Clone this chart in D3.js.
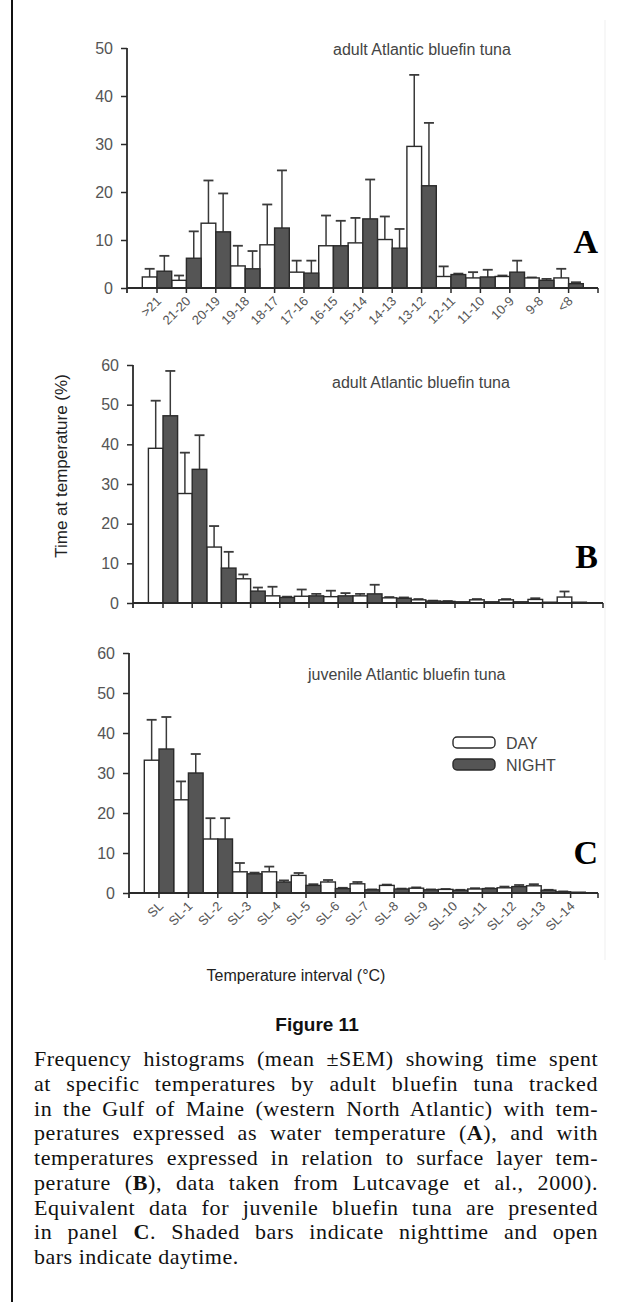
<!DOCTYPE html>
<html><head><meta charset="utf-8">
<script src="https://cdn.jsdelivr.net/npm/d3@7"></script>
<style>
html,body{margin:0;padding:0;background:#fff;}
svg{display:block;}
</style></head>
<body>
<script>
// ---------- DATA ----------
const catsA = [">21","21-20","20-19","19-18","18-17","17-16","16-15","15-14","14-13","13-12","12-11","11-10","10-9","9-8","<8"];
const dayA      = [2.3,1.6,13.5,4.6,9.0,3.3,8.8,9.4,10.1,29.5,2.4,2.1,2.4,2.1,2.1];
const semDayA   = [1.7,1.0,8.9,4.2,8.4,2.4,6.3,5.2,4.8,14.9,2.1,1.2,0.2,0.1,1.9];
const nightA    = [3.5,6.2,11.7,4.0,12.5,3.1,8.8,14.4,8.3,21.3,2.8,2.3,3.3,1.6,0.9];
const semNightA = [3.2,5.6,8.0,3.7,12.0,2.6,5.2,8.2,4.0,13.1,0.2,1.5,2.4,0.3,0.3];

const catsSL = ["SL","SL-1","SL-2","SL-3","SL-4","SL-5","SL-6","SL-7","SL-8","SL-9","SL-10","SL-11","SL-12","SL-13","SL-14"];
const dayB      = [39.0,27.6,14.1,6.1,1.8,1.7,1.6,1.8,1.3,0.8,0.4,0.8,0.8,0.9,1.5];
const semDayB   = [12.0,10.3,5.3,1.1,2.3,1.7,1.5,0.5,0.2,0.2,0.1,0.2,0.2,0.3,1.4];
const nightB    = [47.2,33.7,8.8,3.0,1.4,1.8,1.8,2.3,1.2,0.5,0.3,0.3,0.3,0.2,0.2];
const semNightB = [11.3,8.6,4.1,0.9,0.2,0.5,0.7,2.3,0.2,0.1,0,0,0,0,0];

const dayC      = [33.2,23.3,13.5,5.3,5.3,4.4,2.75,2.3,1.9,1.2,0.9,1.0,1.3,1.8,0.3];
const semDayC   = [10.1,4.6,5.2,2.2,1.3,0.6,0.5,0.45,0.2,0.2,0.1,0.2,0.3,0.4,0.1];
const nightC    = [36.0,30.0,13.5,4.8,2.75,1.9,1.1,0.8,1.0,0.8,0.7,1.1,1.6,0.7,0.2];
const semNightC = [8.0,4.75,5.2,0.3,0.4,0.3,0.2,0.1,0.1,0.1,0.1,0.1,0.4,0.1,0];

const ticksA = [0,10,20,30,40,50];
const ticksBC = [0,10,20,30,40,50,60];

const seriesNames = ["DAY","NIGHT"];
const panelTitles = ["adult Atlantic bluefin tuna","adult Atlantic bluefin tuna","juvenile Atlantic bluefin tuna"];
const panelLetters = ["A","B","C"];
const yTitle = "Time at temperature (%)";
const xTitle = "Temperature interval (°C)";
const figTitle = "Figure 11";

// ---------- DRAW ----------
const W = 633, H = 1302;
const svg = d3.select("body").append("svg").attr("width", W).attr("height", H);

const INK = "#2a2a2a", NIGHTFILL = "#555555";

// frame
svg.append("line").attr("x1",12).attr("x2",12).attr("y1",0).attr("y2",H)
  .attr("stroke","#111").attr("stroke-width",2);
svg.append("line").attr("x1",605).attr("x2",605).attr("y1",20).attr("y2",960)
  .attr("stroke","#efefef").attr("stroke-width",1);

function panel(cfg){
  const g = svg.append("g");
  const n = cfg.cats.length;
  const x = d3.scaleBand().domain(cfg.cats)
     .range([cfg.bandStart, cfg.bandStart + cfg.step*n]).padding(0);
  const y = d3.scaleLinear().domain([0, cfg.yMax]).range([cfg.y0, cfg.yTop]);
  const bw = x.bandwidth()/2;

  // y axis
  const ya = g.append("g").attr("transform",`translate(${cfg.x0},0)`)
    .call(d3.axisLeft(y).tickValues(cfg.ticks).tickSize(6).tickSizeOuter(0).tickPadding(8));
  ya.select(".domain").remove();
  ya.selectAll(".tick line").attr("stroke",INK).attr("stroke-width",1.5);
  ya.selectAll(".tick text").attr("fill","#555").attr("font-family","Liberation Sans, Arial, sans-serif")
    .attr("font-size",16);
  g.append("line").attr("x1",cfg.x0).attr("x2",cfg.x0).attr("y1",cfg.y0+5).attr("y2",cfg.yTop)
    .attr("stroke",INK).attr("stroke-width",1.8);

  // bars
  const rows = cfg.cats.map((c,i)=>({c, i}));
  const series = [
    {vals: cfg.day, sem: cfg.semDay, off: 0, fill: "#fff"},
    {vals: cfg.night, sem: cfg.semNight, off: 1, fill: NIGHTFILL}
  ];
  series.forEach(s=>{
    const eg = g.append("g");
    rows.forEach(r=>{
      const v = s.vals[r.i], e = s.sem[r.i];
      if (e > 0.05) {
        const cx = x(r.c) + s.off*bw + bw/2;
        eg.append("line").attr("x1",cx).attr("x2",cx).attr("y1",y(v)).attr("y2",y(v+e))
          .attr("stroke","#3a3a3a").attr("stroke-width",1.5);
        eg.append("line").attr("x1",cx-5).attr("x2",cx+5).attr("y1",y(v+e)).attr("y2",y(v+e))
          .attr("stroke","#3a3a3a").attr("stroke-width",1.8);
      }
    });
    g.append("g").selectAll("rect").data(rows).join("rect")
      .attr("x", r=>x(r.c) + s.off*bw)
      .attr("width", bw)
      .attr("y", r=>y(s.vals[r.i]))
      .attr("height", r=>cfg.y0 - y(s.vals[r.i]))
      .attr("fill", s.fill).attr("stroke", INK).attr("stroke-width",1.4);
  });

  // x axis
  const xa = g.append("g").attr("transform",`translate(0,${cfg.y0})`)
    .call(d3.axisBottom(x).tickSize(5).tickSizeOuter(0).tickFormat(cfg.showLabels ? (d=>d) : ""));
  xa.select(".domain").remove();
  xa.selectAll(".tick line").attr("stroke",INK).attr("stroke-width",1.5);
  g.append("line").attr("x1",cfg.x0).attr("x2",cfg.axisEnd).attr("y1",cfg.y0).attr("y2",cfg.y0)
    .attr("stroke",INK).attr("stroke-width",1.8);
  g.append("line").attr("x1",cfg.axisEnd).attr("x2",cfg.axisEnd).attr("y1",cfg.y0).attr("y2",cfg.y0+5)
    .attr("stroke",INK).attr("stroke-width",1.5);
  if (cfg.showLabels){
    xa.selectAll(".tick text")
      .attr("x",0).attr("y",0).attr("dy",0)
      .attr("transform",`translate(5,${cfg.labelDy}) rotate(-45)`)
      .attr("text-anchor","end")
      .attr("fill","#555").attr("font-family","Liberation Sans, Arial, sans-serif")
      .attr("font-size",13);
  }

  g.append("text").attr("x",cfg.titleX).attr("y",cfg.titleY).text(cfg.title)
    .attr("fill","#444").attr("font-family","Liberation Sans, Arial, sans-serif").attr("font-size",16);
  g.append("text").attr("x",598).attr("y",cfg.letterY).attr("text-anchor","end").text(cfg.letter)
    .attr("fill","#000").attr("font-family","Liberation Serif, Times New Roman, serif")
    .attr("font-weight","bold").attr("font-size",34);
  return {x,y,g};
}

panel({cats:catsA, day:dayA, semDay:semDayA, night:nightA, semNight:semNightA,
  x0:127, y0:288, yTop:48, yMax:50, ticks:ticksA, bandStart:142.3, step:29.4, axisEnd:598,
  showLabels:true, labelDy:14, title:panelTitles[0], titleX:333, titleY:55, letter:panelLetters[0], letterY:253});

panel({cats:catsSL, day:dayB, semDay:semDayB, night:nightB, semNight:semNightB,
  x0:133, y0:603, yTop:365, yMax:60, ticks:ticksBC, bandStart:148.4, step:29.2, axisEnd:603,
  showLabels:false, title:panelTitles[1], titleX:332, titleY:388, letter:panelLetters[1], letterY:568});

panel({cats:catsSL, day:dayC, semDay:semDayC, night:nightC, semNight:semNightC,
  x0:129, y0:893, yTop:653, yMax:60, ticks:ticksBC, bandStart:144.3, step:29.4, axisEnd:598,
  showLabels:true, labelDy:14, title:panelTitles[2], titleX:308, titleY:680, letter:panelLetters[2], letterY:864});

// legend
const leg = svg.append("g");
seriesNames.forEach((nm,i)=>{
  leg.append("rect").attr("x",453).attr("y",737 + i*22).attr("width",42).attr("height",11)
    .attr("rx",4).attr("fill", i===0 ? "#fff" : NIGHTFILL).attr("stroke",INK).attr("stroke-width",1.4);
  leg.append("text").attr("x",506).attr("y",749 + i*22).text(nm)
    .attr("fill","#444").attr("font-family","Liberation Sans, Arial, sans-serif").attr("font-size",16);
});

// axis titles
svg.append("text").attr("transform","translate(67,466) rotate(-90)").attr("text-anchor","middle")
  .text(yTitle).attr("fill","#222").attr("font-family","Liberation Sans, Arial, sans-serif").attr("font-size",17);
svg.append("text").attr("x",296).attr("y",981).attr("text-anchor","middle")
  .text(xTitle).attr("fill","#222").attr("font-family","Liberation Sans, Arial, sans-serif").attr("font-size",16);

// figure title
svg.append("text").attr("x",317).attr("y",1031).attr("text-anchor","middle")
  .text(figTitle).attr("fill","#111").attr("font-family","Liberation Sans, Arial, sans-serif")
  .attr("font-weight","bold").attr("font-size",19);

// caption (segments: [text, bold])
const captionLines = [
  [["Frequency histograms (mean ±SEM) showing time spent",0]],
  [["at specific temperatures by adult bluefin tuna tracked",0]],
  [["in the Gulf of Maine (western North Atlantic) with tem-",0]],
  [["peratures expressed as water temperature (",0],["A",1],["), and with",0]],
  [["temperatures expressed in relation to surface layer tem-",0]],
  [["perature (",0],["B",1],["), data taken from Lutcavage et al., 2000).",0]],
  [["Equivalent data for juvenile bluefin tuna are presented",0]],
  [["in panel ",0],["C",1],[". Shaded bars indicate nighttime and open",0]],
  [["bars indicate daytime.",0]]
];
const capX = 34, capW = 564, capY0 = 1066, capDY = 24.75;
captionLines.forEach((segs,i)=>{
  const t = svg.append("text").attr("x",capX).attr("y",capY0 + i*capDY)
    .attr("fill","#111").attr("font-family","Liberation Serif, Times New Roman, serif").attr("font-size",22);
  segs.forEach(s=>{
    t.append("tspan").text(s[0]).attr("font-weight", s[1] ? "bold" : null);
  });
  if (i < captionLines.length-1){
    const nat = t.node().getComputedTextLength();
    const spaces = segs.map(s=>s[0]).join("").split(" ").length - 1;
    const extra = capW - nat;
    if (extra > 0) {
      // distribute partly as word spacing, partly as letter spacing
      const chars = segs.map(s=>s[0]).join("").length;
      const ls = Math.min(0.6, (extra*0.4)/chars);
      t.attr("letter-spacing", ls);
      const nat2 = t.node().getComputedTextLength();
      t.attr("word-spacing", Math.max(0,(capW - nat2)/spaces));
    } else {
      t.attr("textLength",capW).attr("lengthAdjust","spacingAndGlyphs");
    }
  } else {
    t.attr("letter-spacing",0.5);
  }
});
</script>
</body></html>
